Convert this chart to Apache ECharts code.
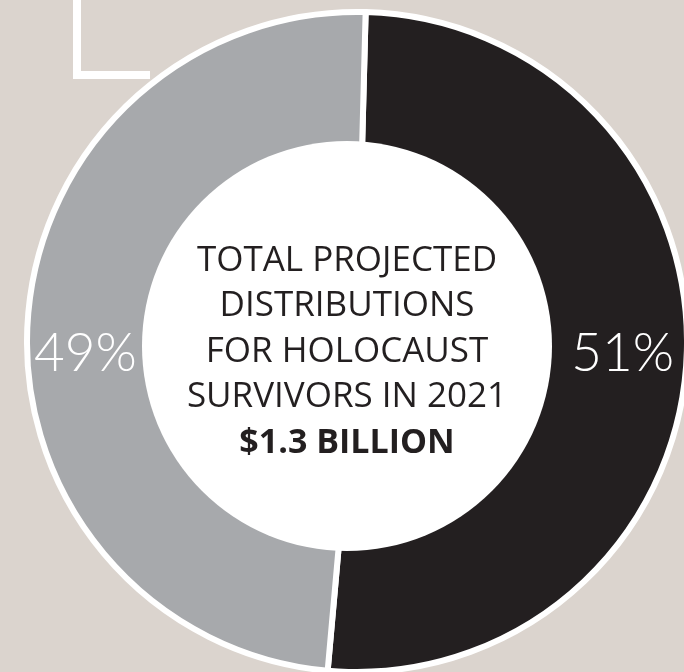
<!DOCTYPE html>
<html>
<head>
<meta charset="utf-8">
<script src="https://cdn.jsdelivr.net/npm/echarts@6/dist/echarts.min.js"></script>
<style>
html,body{margin:0;padding:0;background:#dbd4ce;}
#chart{width:684px;height:672px;}
</style>
</head>
<body>
<div id="chart"></div>
<script>
// Data
var categories = ['Other', 'Holocaust survivors'];
var shares = [51, 49];
var shareLabels = ['51%', '49%'];
var centerLines = ['TOTAL PROJECTED', 'DISTRIBUTIONS', 'FOR HOLOCAUST', 'SURVIVORS IN 2021'];
var centerTotal = '$1.3 BILLION';

var sliceColors = ['#231f20', '#a7a9ac'];
var labelShiftX = [3, -9];
var labelShiftY = [-3, 27];

var chart = echarts.init(document.getElementById('chart'), null, {renderer: 'canvas'});
var option = {
  backgroundColor: '#dbd4ce',
  animation: false,
  graphic: [
    {type: 'rect', shape: {x: 73, y: 0, width: 8, height: 79}, style: {fill: '#ffffff'}, z: 1},
    {type: 'rect', shape: {x: 73, y: 71, width: 77, height: 8}, style: {fill: '#ffffff'}, z: 1}
  ],
  series: [
    {
      type: 'pie',
      center: [357, 342],
      radius: [190, 330],
      startAngle: 88.5,
      clockwise: true,
      silent: true,
      z: 2,
      itemStyle: {borderColor: '#ffffff', borderWidth: 6},
      label: {
        show: true,
        position: 'inside',
        formatter: function (p) { return shareLabels[p.dataIndex]; },
        color: '#ffffff',
        fontFamily: 'Lato',
        fontWeight: 300,
        fontSize: 53
      },
      labelLine: {show: false},
      labelLayout: function (p) { return {dx: labelShiftX[p.dataIndex], dy: labelShiftY[p.dataIndex]}; },
      data: categories.map(function (c, i) {
        return {name: c, value: shares[i], itemStyle: {color: sliceColors[i]}};
      })
    },
    {
      type: 'pie',
      center: [347, 346],
      radius: [0, 205],
      silent: true,
      z: 3,
      itemStyle: {color: '#ffffff'},
      label: {
        show: true,
        position: 'center',
        formatter: centerLines.join('\n') + '\n{b|' + centerTotal + '}',
        color: '#231f20',
        fontFamily: 'Open Sans',
        fontSize: 35,
        lineHeight: 45.5,
        align: 'center',
        rich: {
          b: {fontFamily: 'Open Sans', fontWeight: 'bold', fontSize: 34, lineHeight: 45.5, color: '#231f20'}
        }
      },
      labelLayout: function () { return {dy: 6}; },
      labelLine: {show: false},
      data: [{name: 'total', value: 1}]
    }
  ]
};
chart.setOption(option);
</script>
</body>
</html>
